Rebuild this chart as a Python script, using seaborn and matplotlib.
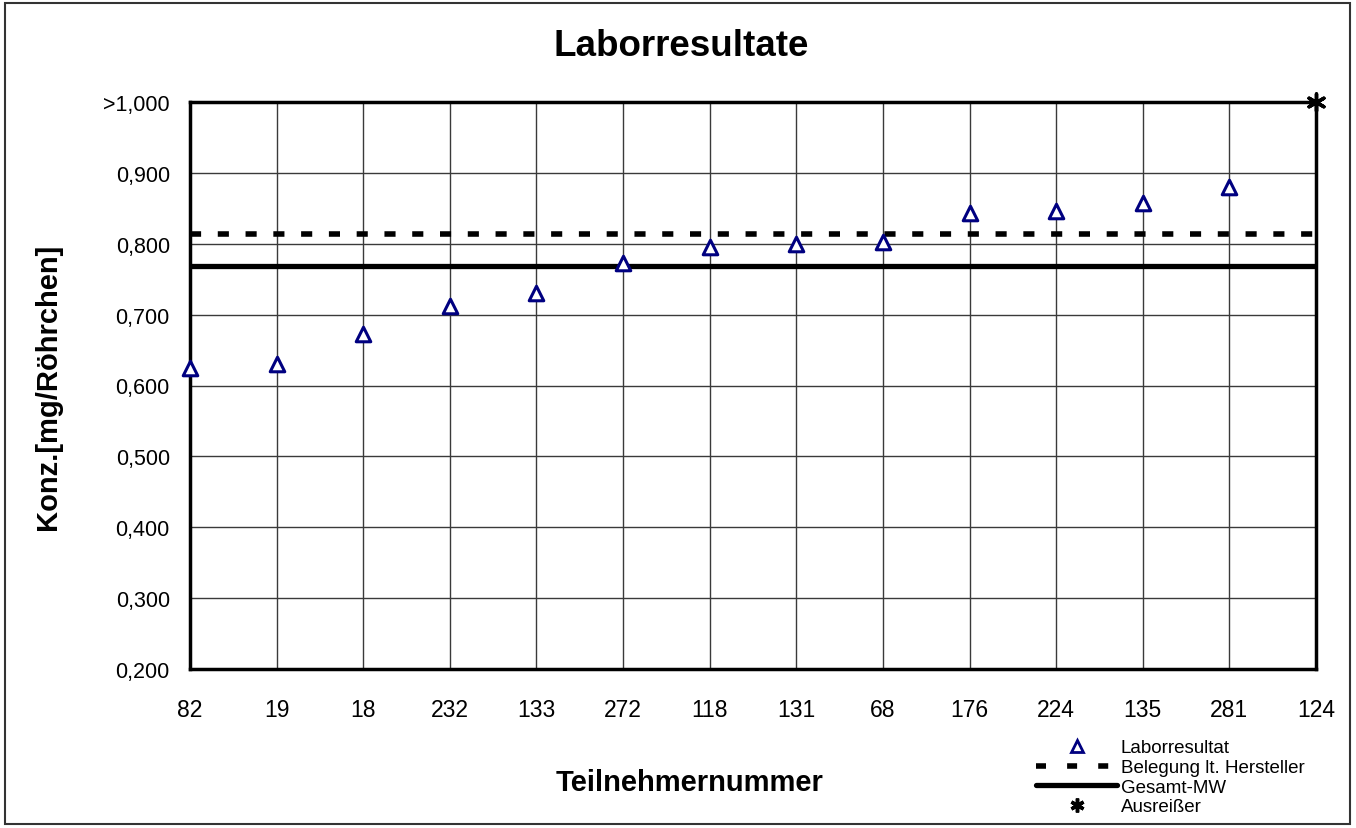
import numpy as np
import pandas as pd
import matplotlib
matplotlib.use("Agg")
import matplotlib.pyplot as plt
from matplotlib.lines import Line2D
from matplotlib.patches import Rectangle
import seaborn as sns

# data
teilnehmer = ["82", "19", "18", "232", "133", "272", "118", "131", "68",
              "176", "224", "135", "281", "124"]
laborresultat = [0.625, 0.630, 0.673, 0.712, 0.730, 0.773, 0.796, 0.800,
                 0.802, 0.844, 0.846, 0.858, 0.880]
ausreisser_nr = ["124"]
ausreisser_wert = [1.000]
belegung_hersteller = 0.814
gesamt_mw = 0.768
y_ticks = [0.2, 0.3, 0.4, 0.5, 0.6, 0.7, 0.8, 0.9, 1.0]
y_ticklabels = ["0,200", "0,300", "0,400", "0,500", "0,600", "0,700",
                "0,800", "0,900", ">1,000"]

sns.set_style("white")
plt.rcParams["font.family"] = ["Liberation Sans", "DejaVu Sans"]
plt.rcParams["text.color"] = "black"
plt.rcParams["axes.labelcolor"] = "black"
plt.rcParams["xtick.color"] = "black"
plt.rcParams["ytick.color"] = "black"

pos = {t: i for i, t in enumerate(teilnehmer)}
df = pd.DataFrame({"x": [pos[t] for t in teilnehmer[:len(laborresultat)]],
                   "wert": laborresultat})
df_out = pd.DataFrame({"x": [pos[t] for t in ausreisser_nr],
                       "wert": ausreisser_wert})

# asterisk-like marker for outliers
stern = (6, 2, 0)

fig = plt.figure(figsize=(13.56, 8.29), dpi=100)
ax = fig.add_axes([190 / 1356, 1 - 670 / 829, 1126 / 1356, 567 / 829])

# grid
ax.set_xticks(range(len(teilnehmer)))
ax.set_xticklabels(teilnehmer)
ax.set_yticks(y_ticks)
ax.set_yticklabels(y_ticklabels)
ax.grid(True, color="#3a3a3a", linewidth=1.0)
ax.set_axisbelow(True)

# reference lines
ax.axhline(belegung_hersteller, color="black", linewidth=4.0,
           linestyle=(0, (2.0, 3.0)), zorder=3)
ax.axhline(gesamt_mw, color="black", linewidth=3.8, zorder=3)

sns.scatterplot(data=df, x="x", y="wert", marker="^", s=110,
                facecolor="white", edgecolor="#000080", linewidth=2.2,
                ax=ax, zorder=4, clip_on=False)
sns.scatterplot(data=df_out, x="x", y="wert", marker=stern, s=150,
                color="black", linewidth=2.5, ax=ax, zorder=5, clip_on=False)

ax.set_xlim(0, len(teilnehmer) - 1)
ax.set_ylim(0.2, 1.0)

for s in ax.spines.values():
    s.set_visible(True)
    s.set_color("black")
    s.set_linewidth(2.5)

ax.tick_params(axis="both", which="both", direction="out", length=7,
               width=1.2, color="black", labelsize=15.5)
ax.tick_params(axis="x", labelsize=16.5, pad=14)
ax.tick_params(axis="y", pad=7.5)

ax.set_xlabel("")
ax.set_ylabel("")
fig.text(681 / 1356, 1 - 47 / 829, "Laborresultate", fontsize=26.5,
         fontweight="bold", ha="center", va="center")
fig.text(48 / 1356, 1 - 387 / 829, "Konz.[mg/Röhrchen]", fontsize=21,
         fontweight="bold", ha="center", va="center", rotation=90)
fig.text(690 / 1356, 1 - 783 / 829, "Teilnehmernummer", fontsize=21,
         fontweight="bold", ha="center", va="center")

handles = [
    Line2D([], [], linestyle="none", marker="^", markersize=9,
           markerfacecolor="white", markeredgecolor="#000080",
           markeredgewidth=2),
    Line2D([], [], color="black", linewidth=4.0, linestyle=(0, (1.8, 3.8))),
    Line2D([], [], color="black", linewidth=3.8),
    Line2D([], [], linestyle="none", marker=stern, markersize=10,
           color="black", markeredgewidth=2.5),
]
labels = ["Laborresultat", "Belegung lt. Hersteller", "Gesamt-MW", "Ausreißer"]
fig.legend(handles, labels, loc="upper left",
           bbox_to_anchor=(1027 / 1356, 1 - 731 / 829), frameon=False,
           fontsize=13.5, handlelength=4.3, handletextpad=0.2,
           labelspacing=0.13, borderpad=0)

fig.add_artist(Rectangle((5 / 1356, 4 / 829), 1345 / 1356, 821 / 829,
                         transform=fig.transFigure, fill=False,
                         edgecolor="#333333", linewidth=1.5))

fig.savefig("out.png", dpi=100)
